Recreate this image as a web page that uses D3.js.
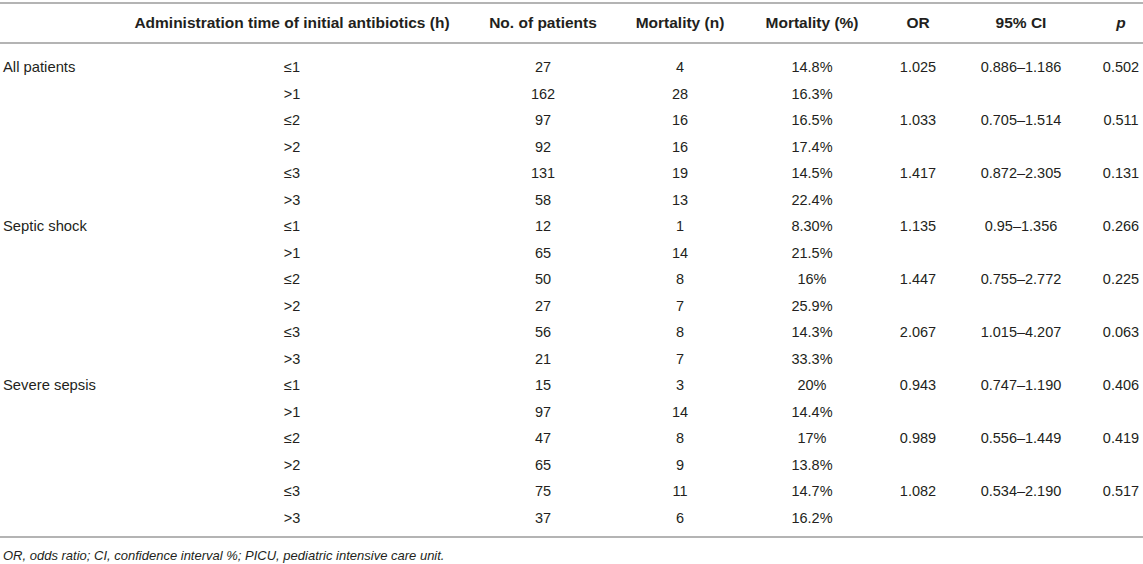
<!DOCTYPE html>
<html>
<head>
<meta charset="utf-8">
<script src="https://cdn.jsdelivr.net/npm/d3@7"></script>
<style>
  body { margin: 0; background: #fff; }
  svg text { font-family: "Liberation Sans", Arial, Helvetica, sans-serif; fill: #231f20; }
</style>
</head>
<body>
<div id="chart"></div>
<script>
// table data
const headers = ["Administration time of initial antibiotics (h)", "No. of patients", "Mortality (n)", "Mortality (%)", "OR", "95% CI", "p"];
const groups = ["All patients", "Septic shock", "Severe sepsis"];
const times = ["≤1", ">1", "≤2", ">2", "≤3", ">3"];
const patients = [27, 162, 97, 92, 131, 58, 12, 65, 50, 27, 56, 21, 15, 97, 47, 65, 75, 37];
const deaths = [4, 28, 16, 16, 19, 13, 1, 14, 8, 7, 8, 7, 3, 14, 8, 9, 11, 6];
const mortPct = ["14.8%", "16.3%", "16.5%", "17.4%", "14.5%", "22.4%", "8.30%", "21.5%", "16%", "25.9%", "14.3%", "33.3%", "20%", "14.4%", "17%", "13.8%", "14.7%", "16.2%"];
const oddsRatio = ["1.025", "1.033", "1.417", "1.135", "1.447", "2.067", "0.943", "0.989", "1.082"];
const ci95 = ["0.886–1.186", "0.705–1.514", "0.872–2.305", "0.95–1.356", "0.755–2.772", "1.015–4.207", "0.747–1.190", "0.556–1.449", "0.534–2.190"];
const pValues = ["0.502", "0.511", "0.131", "0.266", "0.225", "0.063", "0.406", "0.419", "0.517"];
const footnote = "OR, odds ratio; CI, confidence interval %; PICU, pediatric intensive care unit.";

const width = 1143, height = 564;

const svg = d3.select("#chart")
  .append("svg")
  .attr("width", width)
  .attr("height", height);

// column centres
const x = d3.scaleOrdinal()
  .domain(d3.range(7))
  .range([292, 543, 680, 812, 918, 1021, 1121]);

// row positions
const y = d3.scaleLinear()
  .domain([0, 17])
  .range([67, 517.5]);

const rows = patients.map((n, i) => {
  const pair = i % 2 === 0 ? i / 2 : -1;
  return [
    times[i % 6],
    n,
    deaths[i],
    mortPct[i],
    pair >= 0 ? oddsRatio[pair] : "",
    pair >= 0 ? ci95[pair] : "",
    pair >= 0 ? pValues[pair] : ""
  ];
});

// rules
const lineColor = "#b4b4b4";
[3, 43, 537].forEach(yy => {
  svg.append("line")
    .attr("x1", 0).attr("x2", width)
    .attr("y1", yy).attr("y2", yy)
    .attr("stroke", lineColor)
    .attr("stroke-width", 2);
});

// header
svg.selectAll("text.head")
  .data(headers)
  .enter().append("text")
  .attr("class", "head")
  .attr("x", (d, i) => x(i))
  .attr("y", 23)
  .attr("dy", "0.35em")
  .attr("text-anchor", "middle")
  .attr("font-size", 15.5)
  .attr("font-weight", "bold")
  .attr("font-style", (d, i) => i === 6 ? "italic" : "normal")
  .text(d => d);

// group labels
svg.selectAll("text.group")
  .data(groups)
  .enter().append("text")
  .attr("class", "group")
  .attr("x", 3)
  .attr("y", (d, i) => y(i * 6))
  .attr("dy", "0.35em")
  .attr("font-size", 14.8)
  .text(d => d);

// body cells
const rowG = svg.selectAll("g.row")
  .data(rows)
  .enter().append("g")
  .attr("class", "row")
  .attr("transform", (d, i) => `translate(0,${y(i)})`);

rowG.selectAll("text")
  .data(d => d)
  .enter().append("text")
  .attr("x", (d, i) => x(i))
  .attr("dy", "0.35em")
  .attr("text-anchor", "middle")
  .attr("font-size", 14.5)
  .text(d => d);

// footnote
svg.append("text")
  .attr("x", 3)
  .attr("y", 555)
  .attr("dy", "0.35em")
  .attr("font-size", 13)
  .attr("font-style", "italic")
  .text(footnote);
</script>
</body>
</html>
